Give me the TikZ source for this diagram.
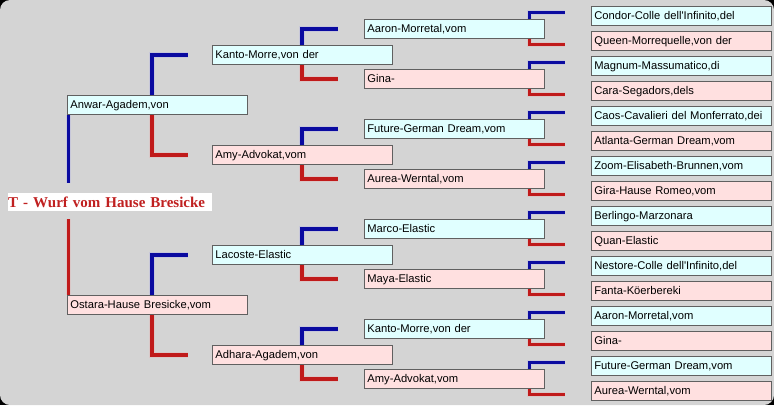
\documentclass[tikz,border=0pt]{standalone}
\usepackage{fontspec}
\setmainfont{Liberation Sans}
\newfontfamily\lab{Liberation Sans}[Ligatures=TeXOff]
\newfontfamily\ttl{Liberation Serif}
\usetikzlibrary{calc}
\definecolor{bggray}{RGB}{212,212,212}
\definecolor{malefill}{RGB}{224,255,255}
\definecolor{femfill}{RGB}{255,224,224}
\definecolor{boxline}{RGB}{96,96,96}
\definecolor{lblue}{RGB}{10,10,160}
\definecolor{lred}{RGB}{192,26,26}
\definecolor{ttlred}{RGB}{192,32,32}
\tikzset{
  dog/.style={draw=boxline, line width=0.8pt, anchor=north west, text width=174pt,
    inner xsep=3pt, inner ysep=0pt, minimum height=19pt, align=left,
    font=\lab\fontsize{11.2}{12}\selectfont, text height=8pt, text depth=0pt},
  m/.style={dog, fill=malefill},
  f/.style={dog, fill=femfill},
  bl/.style={draw=lblue, line width=3.5pt, preaction={draw=blue!50, line width=5.5pt, opacity=0.15}},
  rd/.style={draw=lred, line width=3.5pt, preaction={draw=red!50, line width=5.5pt, opacity=0.15}},
}
\begin{document}
\begin{tikzpicture}[x=1pt,y=-1pt]
\useasboundingbox (0,0) rectangle (774,405);
\fill[black] (0,0) rectangle (774,405);
\fill[bggray, rounded corners=10pt] (0,0) rectangle (774,405);

% title
\node[anchor=north west, fill=white, inner sep=0pt, text width=204pt, minimum height=18pt,
  align=left, text=ttlred, text height=10pt, text depth=0pt,
  font=\ttl\bfseries\fontsize{15}{16}\selectfont] (t) at (8,193)
  {T - Wurf vom Hause Bresicke};

% generation 1
\node[m] (a1) at (67,95) {Anwar-Agadem,von};
\node[f] (a2) at (67,295) {Ostara-Hause Bresicke,vom};

% generation 2
\node[m] (b1) at (212,45) {Kanto-Morre,von der};
\node[f] (b2) at (212,145) {Amy-Advokat,vom};
\node[m] (b3) at (212,245) {Lacoste-Elastic};
\node[f] (b4) at (212,345) {Adhara-Agadem,von};

% generation 3
\node[m] (c1) at (364,19) {Aaron-Morretal,vom};
\node[f] (c2) at (364,69) {Gina-};
\node[m] (c3) at (364,119) {Future-German Dream,vom};
\node[f] (c4) at (364,169) {Aurea-Werntal,vom};
\node[m] (c5) at (364,219) {Marco-Elastic};
\node[f] (c6) at (364,269) {Maya-Elastic};
\node[m] (c7) at (364,319) {Kanto-Morre,von der};
\node[f] (c8) at (364,369) {Amy-Advokat,vom};

% generation 4
\node[m] (d1) at (591,6) {Condor-Colle dell'Infinito,del};
\node[f] (d2) at (591,31) {Queen-Morrequelle,von der};
\node[m] (d3) at (591,56) {Magnum-Massumatico,di};
\node[f] (d4) at (591,81) {Cara-Segadors,dels};
\node[m] (d5) at (591,106) {Caos-Cavalieri del Monferrato,dei};
\node[f] (d6) at (591,131) {Atlanta-German Dream,vom};
\node[m] (d7) at (591,156) {Zoom-Elisabeth-Brunnen,vom};
\node[f] (d8) at (591,181) {Gira-Hause Romeo,vom};
\node[m] (d9) at (591,206) {Berlingo-Marzonara};
\node[f] (d10) at (591,231) {Quan-Elastic};
\node[m] (d11) at (591,256) {Nestore-Colle dell'Infinito,del};
\node[f] (d12) at (591,281) {Fanta-Köerbereki};
\node[m] (d13) at (591,306) {Aaron-Morretal,vom};
\node[f] (d14) at (591,331) {Gina-};
\node[m] (d15) at (591,356) {Future-German Dream,vom};
\node[f] (d16) at (591,381) {Aurea-Werntal,vom};

% generation 0 connectors
\draw[bl] ([xshift=1.5pt]a1.south west) -- ([xshift=60.5pt,yshift=10pt]t.north west);
\draw[rd] ([xshift=60.5pt,yshift=-8pt]t.south west) -- ([xshift=1.5pt]a2.north west);

% generation 1 connectors
\foreach \p/\s/\d in {a1/b1/b2, a2/b3/b4}{
  \draw[bl] ([xshift=85pt]\p.north west) |- ([xshift=-24pt]\s.west);
  \draw[rd] ([xshift=85pt]\p.south west) |- ([xshift=-24pt]\d.west);
}

% generation 2 connectors
\foreach \p/\s/\d in {b1/c1/c2, b2/c3/c4, b3/c5/c6, b4/c7/c8}{
  \draw[bl] ([xshift=90pt]\p.north west) |- ([xshift=-26pt]\s.west);
  \draw[rd] ([xshift=90pt]\p.south west) |- ([xshift=-26pt]\d.west);
}

% generation 3 connectors
\foreach \p/\s/\d in {c1/d1/d2, c2/d3/d4, c3/d5/d6, c4/d7/d8, c5/d9/d10, c6/d11/d12, c7/d13/d14, c8/d15/d16}{
  \draw[bl] ([xshift=165.5pt]\p.north west) |- ([xshift=-26pt,yshift=3.5pt]\s.west);
  \draw[rd] ([xshift=165.5pt]\p.south west) |- ([xshift=-26pt,yshift=-3.5pt]\d.west);
}
\end{tikzpicture}
\end{document}
